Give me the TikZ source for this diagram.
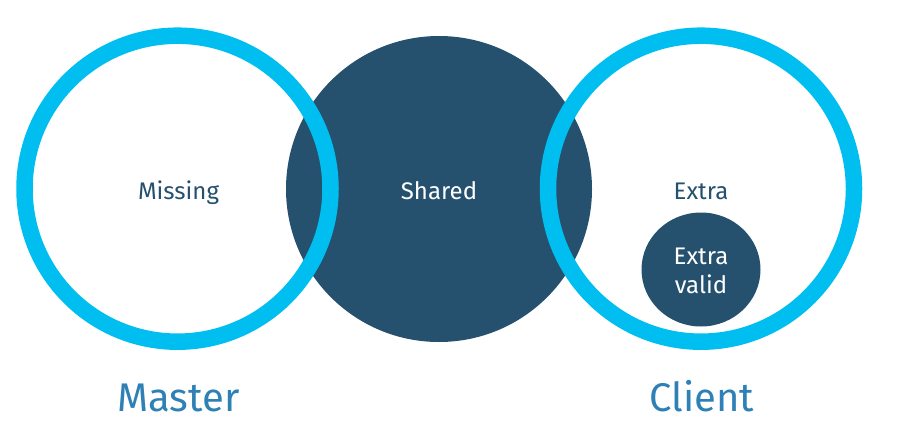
\documentclass[tikz,border=0pt]{standalone}
\usepackage{fontspec}
\setmainfont{Fira Sans}
\usetikzlibrary{shapes.geometric}
\definecolor{ringblue}{RGB}{0,190,240}
\definecolor{navy}{RGB}{38,81,110}
\definecolor{labelblue}{RGB}{46,128,181}
\begin{document}
\begin{tikzpicture}[x=1pt,y=-1pt,
  ring/.style={circle, draw=ringblue, line width=16.5pt, minimum size=306pt, inner sep=0pt},
  disc/.style={circle, fill=navy, minimum size=306pt, inner sep=0pt},
  intext/.style={anchor=base, font=\fontsize{24}{28}\selectfont, inner sep=0pt},
  biglabel/.style={anchor=base, font=\fontsize{40}{46}\selectfont, text=labelblue, inner sep=0pt}]
\useasboundingbox (0,0) rectangle (904,431);
\node[disc] (shared) at (439,189) {};
\node[ring] (master) at (177.5,188.7) {};
\node[ring] (client) at (701,188.7) {};
\node[ellipse, fill=navy, minimum width=119pt, minimum height=114pt, inner sep=0pt] (valid) at (701,269.5) {};
\node[intext, text=navy] (missingt) at (178.5,199.3) {Missing};
\node[intext, text=white] (sharedt) at (439,199.3) {Shared};
\node[intext, text=navy] (extrat) at (701,199.3) {Extra};
\node[intext, text=white] (validt) at (701,264) {Extra};
\node[intext, text=white] (validt2) at (701,293.3) {valid};
\node[biglabel] (mastert) at (178.5,411.7) {Master};
\node[biglabel] (clientt) at (702,411.7) {Client};
\end{tikzpicture}
\end{document}
